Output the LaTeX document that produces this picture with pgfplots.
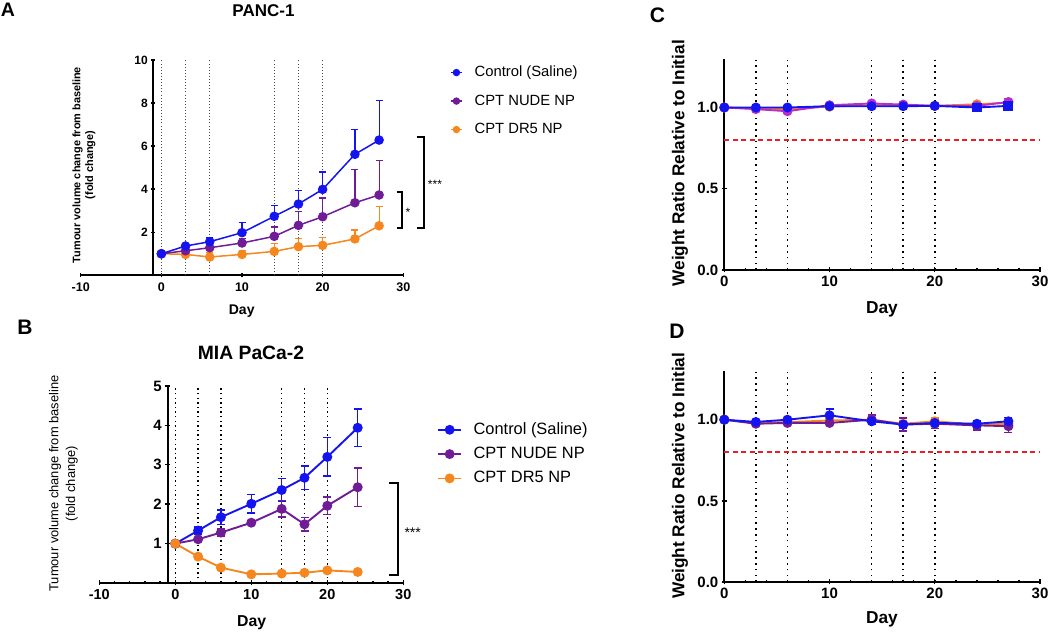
\documentclass[border=0pt]{standalone}
\usepackage{fontspec}
\setmainfont{Liberation Sans}
\usepackage{pgfplots}
\pgfplotsset{compat=1.18}

\definecolor{cblue}{RGB}{20,20,240}
\definecolor{cpurple}{RGB}{112,28,150}
\definecolor{corange}{RGB}{245,135,30}
\definecolor{cmag}{RGB}{185,45,205}
\definecolor{cred}{RGB}{232,30,40}

\newcommand\fs[1]{\fontsize{#1}{#1}\selectfont}

\pgfplotsset{
  common/.style={scale only axis, anchor=south west, clip=false,
    tick align=outside,
    tick style={line width=1.4pt, black},
    /pgf/number format/assume math mode=true},
  fin/.style={
    every outer x axis line/.append style={-, line width=#1},
    every outer y axis line/.append style={-, line width=#1},
    every inner x axis line/.append style={-, line width=#1},
    every inner y axis line/.append style={-, line width=#1},
    axis line style={-, line width=#1}},
  ser/.style={color=#1, line width=1.5pt, mark=*, mark size=4pt, mark options={solid, fill=#1, draw=#1}},
  ebp/.style={error bars/.cd, y dir=plus, y explicit,
    error bar style={line width=1.2pt},
    error mark options={rotate=90, mark size=3.5pt, line width=1.2pt}},
  ebb/.style={error bars/.cd, y dir=both, y explicit,
    error bar style={line width=1.5pt},
    error mark options={rotate=90, mark size=4pt, line width=1.5pt}},
}

\begin{document}
\begin{tikzpicture}
\useasboundingbox (0,0) rectangle (1050pt,634pt);

%================ PANEL A =================
\begin{axis}[common, at={(80.7pt,358.7pt)}, width=322.6pt, height=215.3pt,
  xmin=-10, xmax=30, ymin=0, ymax=10,
  axis x line=bottom, axis y line=none,
  xtick={-10,0,10,20,30}, xticklabels={-10,0,10,20,30},
  xticklabel style={font=\bfseries\fs{12.5}, yshift=-1.5pt},
  major tick length=4pt, fin=1.8pt]
\end{axis}

\begin{axis}[common, at={(153.3pt,358.7pt)}, width=250pt, height=215.3pt,
  xmin=-1, xmax=30, ymin=0, ymax=10,
  axis y line=left, axis x line=none,
  ytick={2,4,6,8,10}, yticklabel style={font=\bfseries\fs{12}},
  major tick length=4pt,
  reverse legend, legend cell align=left,
  legend image code/.code={\draw[mark repeat=2, mark phase=2, #1, mark size=3pt, line width=1.4pt] plot coordinates {(0pt,0pt) (5.5pt,0pt) (11pt,0pt)};},
  legend style={at={(1.187,0.975)}, anchor=north west, draw=none, fill=none,
    font=\fs{14.8}, inner sep=0pt, row sep=14.5pt, column sep=12pt,
    nodes={inner sep=0pt, text height=11pt, text depth=3pt}}, fin=1.8pt]
\pgfplotsinvokeforeach{0,3,6,14,17,20}{
  \draw[black!70, line width=0.9pt, dash pattern=on 0.9pt off 2.2pt] (axis cs:#1,0) -- (axis cs:#1,10);}
\addplot+[ser=corange, ebp] coordinates {
 (0,1.00) +- (0,0) (3,0.97) +- (0,0.08) (6,0.85) +- (0,0.20) (10,0.97) +- (0,0.18)
 (14,1.11) +- (0,0.36) (17,1.33) +- (0,0.37) (20,1.39) +- (0,0.37) (24,1.69) +- (0,0.41) (27,2.30) +- (0,0.89)};
\addlegendentry{CPT DR5 NP}
\addplot+[ser=cpurple, ebp] coordinates {
 (0,1.00) +- (0,0) (3,1.14) +- (0,0.06) (6,1.28) +- (0,0.12) (10,1.50) +- (0,0.20)
 (14,1.81) +- (0,0.43) (17,2.32) +- (0,0.65) (20,2.72) +- (0,0.87) (24,3.37) +- (0,1.53) (27,3.73) +- (0,1.60)};
\addlegendentry{CPT NUDE NP}
\addplot+[ser=cblue, ebp] coordinates {
 (0,1.00) +- (0,0) (3,1.36) +- (0,0.10) (6,1.56) +- (0,0.20) (10,1.98) +- (0,0.46)
 (14,2.74) +- (0,0.52) (17,3.31) +- (0,0.61) (20,3.99) +- (0,0.81) (24,5.62) +- (0,1.14) (27,6.28) +- (0,1.85)};
\addlegendentry{Control (Saline)}
\end{axis}

%================ PANEL B =================
\begin{axis}[common, at={(99.3pt,51pt)}, width=304pt, height=197pt,
  xmin=-10, xmax=30, ymin=0, ymax=5,
  axis x line=bottom, axis y line=none,
  xtick={-10,0,10,20,30}, xticklabels={-10,0,10,20,30},
  minor x tick num=4,
  xticklabel style={font=\bfseries\fs{14.5}},
  major tick length=5pt, minor tick length=3pt, fin=2pt]
\end{axis}

\begin{axis}[common, at={(167.7pt,51pt)}, width=235.6pt, height=197pt,
  xmin=-1, xmax=30, ymin=0, ymax=5,
  axis y line=left, axis x line=none,
  ytick={1,2,3,4,5}, yticklabel style={font=\bfseries\fs{15}},
  major tick length=5pt,
  legend cell align=left,
  legend image code/.code={\draw[mark repeat=2, mark phase=2, #1, mark size=4pt, line width=1.8pt] plot coordinates {(0pt,0pt) (11.35pt,0pt) (22.7pt,0pt)};},
  legend style={at={(1.144,0.818)}, anchor=north west, draw=none, fill=none,
    font=\fs{16.4}, inner sep=0pt, row sep=8.8pt, column sep=11.7pt,
    nodes={inner sep=0pt, text height=12pt, text depth=3.5pt}}, fin=2pt]
\pgfplotsinvokeforeach{0,3,6,14,17,20}{
  \draw[black, line width=1.4pt, dash pattern=on 1.4pt off 3.2pt] (axis cs:#1,0) -- (axis cs:#1,5);}
\addplot+[ser=cblue, line width=1.9pt, ebb] coordinates {
 (0,1.00) +- (0,0) (3,1.33) +- (0,0.09) (6,1.67) +- (0,0.18) (10,2.01) +- (0,0.23)
 (14,2.36) +- (0,0.29) (17,2.67) +- (0,0.30) (20,3.20) +- (0,0.49) (24,3.94) +- (0,0.47)};
\addlegendentry{Control (Saline)}
\addplot+[ser=cpurple, line width=1.9pt, ebb] coordinates {
 (0,1.00) +- (0,0) (3,1.11) +- (0,0.05) (6,1.28) +- (0,0.09) (10,1.53) +- (0,0.05)
 (14,1.88) +- (0,0.21) (17,1.49) +- (0,0.17) (20,1.96) +- (0,0.22) (24,2.43) +- (0,0.49)};
\addlegendentry{CPT NUDE NP}
\addplot+[ser=corange, line width=1.9pt, ebb] coordinates {
 (0,1.00) +- (0,0) (3,0.67) +- (0,0.03) (6,0.39) +- (0,0.03) (10,0.22) +- (0,0.02)
 (14,0.24) +- (0,0.02) (17,0.26) +- (0,0.02) (20,0.32) +- (0,0.03) (24,0.28) +- (0,0.02)};
\addlegendentry{CPT DR5 NP}
\end{axis}

%================ PANEL C =================
\begin{axis}[common, at={(724.3pt,364.03pt)}, width=315.7pt, height=211.2pt,
  xmin=0, xmax=30, ymin=0, ymax=1.3,
  axis lines=left,
  xtick={0,10,20,30}, xticklabels={0,10,20,30}, minor x tick num=4,
  ytick={0,0.5,1}, yticklabels={0.0,0.5,1.0},
  ticklabel style={font=\bfseries\fs{15}},
  major tick length=5pt, minor tick length=3pt, fin=2.2pt]
\pgfplotsinvokeforeach{3,6,14,17,20}{
  \draw[black, line width=1.6pt, dash pattern=on 1.6pt off 4.2pt] (axis cs:#1,0) -- (axis cs:#1,1.3);}
\addplot[cred, line width=2pt, dash pattern=on 5pt off 3.5pt] coordinates {(0,0.8) (30,0.8)};
\addplot+[ser=corange, line width=1.9pt, ebb] coordinates {
 (0,1.00) +- (0,0) (3,0.995) +- (0,0.005) (6,0.99) +- (0,0.005) (10,1.005) +- (0,0.005)
 (14,1.015) +- (0,0.01) (17,1.015) +- (0,0.01) (20,1.01) +- (0,0.01) (24,1.02) +- (0,0.015) (27,1.03) +- (0,0.02)};
\addplot+[ser=cmag, line width=1.9pt, ebb] coordinates {
 (0,1.00) +- (0,0) (3,0.99) +- (0,0.01) (6,0.977) +- (0,0.01) (10,1.014) +- (0,0.005)
 (14,1.025) +- (0,0.01) (17,1.018) +- (0,0.02) (20,1.01) +- (0,0.01) (24,1.01) +- (0,0.015) (27,1.034) +- (0,0.02)};
\addplot+[ser=cblue, line width=1.9pt, ebb] coordinates {
 (0,1.00) +- (0,0) (3,1.00) +- (0,0.005) (6,1.00) +- (0,0.005) (10,1.008) +- (0,0.005)
 (14,1.008) +- (0,0.005) (17,1.008) +- (0,0.01) (20,1.01) +- (0,0.005)};
\addplot+[ser=cblue, line width=1.9pt, mark=square*, mark size=4pt, mark indices={2,3}, ebb] coordinates {
 (20,1.01) +- (0,0) (24,1.00) +- (0,0.025) (27,1.01) +- (0,0.027)};
\end{axis}

%================ PANEL D =================
\begin{axis}[common, at={(724.3pt,52pt)}, width=315.7pt, height=211pt,
  xmin=0, xmax=30, ymin=0, ymax=1.3,
  axis lines=left,
  xtick={0,10,20,30}, xticklabels={0,10,20,30}, minor x tick num=4,
  ytick={0,0.5,1}, yticklabels={0.0,0.5,1.0},
  ticklabel style={font=\bfseries\fs{15}},
  major tick length=5pt, minor tick length=3pt, fin=2.2pt]
\pgfplotsinvokeforeach{3,6,14,17,20}{
  \draw[black, line width=1.6pt, dash pattern=on 1.6pt off 4.2pt] (axis cs:#1,0) -- (axis cs:#1,1.3);}
\addplot[cred, line width=2pt, dash pattern=on 5pt off 3.5pt] coordinates {(0,0.8) (30,0.8)};
\addplot+[ser=corange, line width=1.9pt, ebb] coordinates {
 (0,1.00) +- (0,0) (3,0.98) +- (0,0.01) (6,0.985) +- (0,0.01) (10,0.995) +- (0,0.01)
 (14,1.00) +- (0,0.01) (17,0.975) +- (0,0.02) (20,0.99) +- (0,0.02) (24,0.97) +- (0,0.02) (27,0.975) +- (0,0.02)};
\addplot+[ser=cpurple, line width=1.9pt, ebb] coordinates {
 (0,1.00) +- (0,0) (3,0.975) +- (0,0.01) (6,0.98) +- (0,0.01) (10,0.98) +- (0,0.01)
 (14,1.00) +- (0,0.03) (17,0.97) +- (0,0.04) (20,0.975) +- (0,0.03) (24,0.965) +- (0,0.03) (27,0.96) +- (0,0.04)};
\addplot+[ser=cblue, line width=1.9pt, ebb] coordinates {
 (0,1.00) +- (0,0) (3,0.986) +- (0,0.005) (6,1.00) +- (0,0.005) (10,1.027) +- (0,0.04)
 (14,0.99) +- (0,0.02) (17,0.97) +- (0,0.02) (20,0.98) +- (0,0.02) (24,0.975) +- (0,0.02) (27,0.99) +- (0,0.025)};
\end{axis}

%================ TEXT =================
\node[font=\bfseries\fs{19.5}, inner sep=0pt] at (8pt,624pt) {A};
\node[font=\bfseries\fs{17}, inner sep=0pt] at (263.5pt,623.5pt) {PANC-1};
\node[font=\bfseries\fontsize{10.9}{12.6}\selectfont, inner sep=0pt, rotate=90, align=center] at (84pt,469pt) {Tumour volume change from baseline\\(fold change)};
\node[font=\bfseries\fs{14}, inner sep=0pt] at (241.7pt,323.2pt) {Day};

\node[font=\bfseries\fs{21}, inner sep=0pt] at (25pt,307pt) {B};
\node[font=\bfseries\fs{19.3}, inner sep=0pt] at (251pt,281.5pt) {MIA PaCa-2};
\node[font=\fontsize{12.9}{16.7}\selectfont, inner sep=0pt, rotate=90, align=center] at (63.4pt,150.5pt) {Tumour volume change from baseline\\(fold change)};
\node[font=\bfseries\fs{15.8}, inner sep=0pt] at (251.7pt,11pt) {Day};

\node[font=\bfseries\fs{21}, inner sep=0pt] at (657.5pt,619pt) {C};
\node[font=\bfseries\fs{17.2}, inner sep=0pt, rotate=90] at (680pt,470.7pt) {Weight Ratio Relative to Initial};
\node[font=\bfseries\fs{17.3}, inner sep=0pt] at (882pt,325pt) {Day};

\node[font=\bfseries\fs{21}, inner sep=0pt] at (677pt,303pt) {D};
\node[font=\bfseries\fs{17.2}, inner sep=0pt, rotate=90] at (680pt,158.2pt) {Weight Ratio Relative to Initial};
\node[font=\bfseries\fs{17.3}, inner sep=0pt] at (882pt,14.3pt) {Day};

% significance brackets
\draw[line width=1.8pt] (396.7pt,442.3pt) -- (402.3pt,442.3pt) -- (402.3pt,406.3pt) -- (396.7pt,406.3pt);
\node[font=\fs{12}, inner sep=0pt] at (408pt,421.5pt) {*};
\draw[line width=1.8pt] (416.7pt,497.3pt) -- (424pt,497.3pt) -- (424pt,406pt) -- (416.7pt,406pt);
\node[font=\fs{12}, inner sep=0pt] at (435pt,449.8pt) {***};
\draw[line width=2.2pt] (389.3pt,151.3pt) -- (398.3pt,151.3pt) -- (398.3pt,58.7pt) -- (389.3pt,58.7pt);
\node[font=\fs{14}, inner sep=0pt] at (412.7pt,101pt) {***};
\end{tikzpicture}
\end{document}
